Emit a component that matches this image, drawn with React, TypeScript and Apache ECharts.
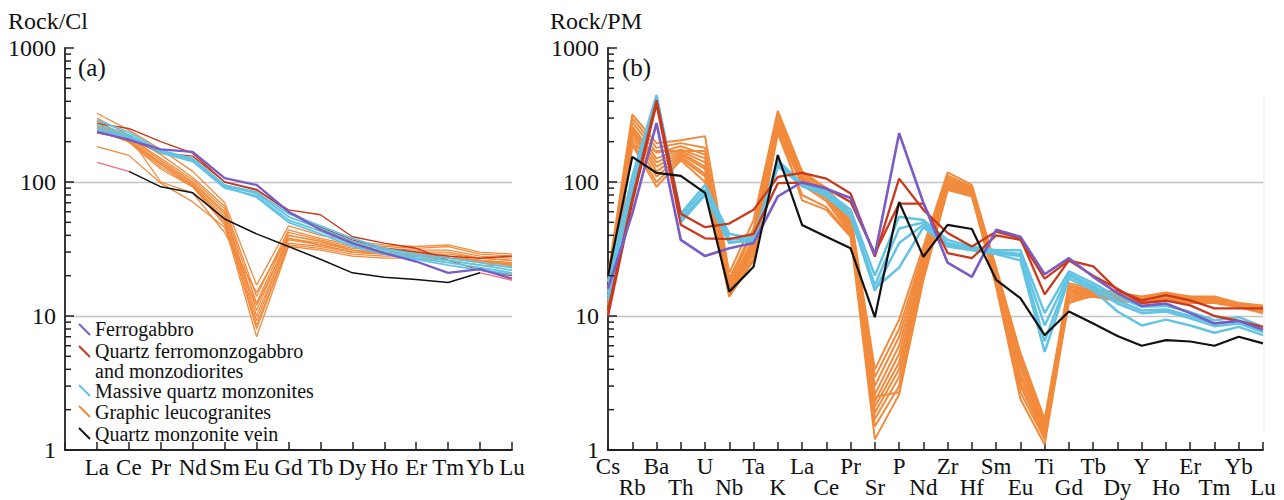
import React, { useEffect, useRef } from "react";
import * as echarts from "echarts";

// ---------- categories ----------
const REE = ["La", "Ce", "Pr", "Nd", "Sm", "Eu", "Gd", "Tb", "Dy", "Ho", "Er", "Tm", "Yb", "Lu"];
const SPIDER = ["Cs", "Rb", "Ba", "Th", "U", "Nb", "Ta", "K", "La", "Ce", "Pr", "Sr", "P", "Nd", "Zr", "Hf", "Sm", "Eu", "Ti", "Gd", "Tb", "Dy", "Y", "Ho", "Er", "Tm", "Yb", "Lu"];
const MINOR_TICKS = [2, 3, 4, 5, 6, 7, 8, 9, 20, 30, 40, 50, 60, 70, 80, 90, 200, 300, 400, 500, 600, 700, 800, 900];

// ---------- (a) Rock/Chondrite ----------
const reeFerrogabbro = [237, 206, 175, 168, 107, 95, 60, 44, 35, 29.5, 25.5, 21, 22.4, 19];
const reeQfmA = [274, 251, 200, 164, 100, 87, 62, 57, 39, 35, 32, 26, 22, 20];
const reeQfmB = [233, 210, 165, 156, 100, 88, 60, 46, 37, 32, 30, 28, 27, 28];
const reeMqm1 = [290, 235, 172, 150, 95, 84, 58, 47, 38, 32, 29, 27, 25, 23];
const reeMqm2 = [270, 225, 168, 147, 93, 82, 55, 45, 36, 31, 28, 26, 24, 22];
const reeMqm3 = [255, 220, 165, 142, 90, 79, 52, 43, 34, 30, 27, 25, 23, 21];
const reeMqm4 = [245, 215, 170, 145, 92, 77, 50, 41, 33, 29, 26.5, 24, 22, 20.5];
const reeGl1 = [326, 244, 175, 120, 70, 17, 47, 40, 36, 34, 33, 34, 30, 29];
const reeGl2 = [300, 225, 160, 108, 66, 14, 44, 38, 34, 33, 32, 33, 29, 28];
const reeGl3 = [285, 215, 150, 104, 63, 12.5, 42, 37, 33, 32, 31, 31, 28, 27];
const reeGl4 = [275, 210, 145, 100, 60, 11, 40, 36, 32, 31, 30, 30, 27, 26];
const reeGl5 = [268, 205, 140, 98, 58, 10, 38, 35, 31, 30, 29, 29, 27, 26];
const reeGl6 = [260, 205, 137, 95, 55, 9.2, 37, 34, 30, 29.5, 29, 28, 26, 25];
const reeGl7 = [255, 200, 135, 94, 52, 8.5, 35, 33, 30, 29, 28, 28, 25.5, 24.5];
const reeGl8 = [250, 200, 130, 93, 50, 8, 34, 32, 29, 28, 28, 27, 25, 24];
const reeGl9 = [245, 198, 125, 92, 48, 7, 33, 31, 28, 27, 27, 26, 24, 23.5];
const reeGl10 = [275, 220, 100, 83, 42, 15, 40, 36, 31, 29, 28, 27, 26, 25];
const reeGl11 = [184, 158, 98, 71, 46, 12, 38, 34, 30, 29, 28, 27, 26, 24];
const reeVein = [null, 120, 92, 83, 53, 41, 33, 26.5, 21, 19.5, 18.7, 17.8, 21, null];
const reeVeinEnds = [140, 120, null, null, null, null, null, null, null, null, null, null, 21, 18.5];

// ---------- (b) Rock/Primitive mantle ----------
const pmFerrogabbro = [16, 58, 275, 37, 28, 32, 35, 78, 100, 89, 76, 28.5, 231, 70, 25, 19.6, 44, 39, 20.5, 27, 19.6, 14.8, 11.9, 12.4, 10.5, 8.8, 9.2, 7.9];
const pmQfmA = [11, 75, 408, 58, 46, 49, 62, 109, 117, 106, 82, 27.7, 106, 62, 41.6, 33, 42.6, 38, 14.5, 26, 23.5, 15.6, 13.1, 14.3, 13.1, 11.4, 11.4, 11.4];
const pmQfmB = [10, 70, 380, 48, 38, 37.5, 41, 98, 99, 90, 71, 29.4, 69, 69, 29.5, 27, 40, 37, 19, 26, 20, 16, 12.5, 13, 12, 10, 9.2, 8.3];
const pmMqm1 = [18, 110, 445, 58, 95, 41, 38, 145, 97, 85, 62, 20, 55, 52, 37, 33, 31, 31, 10.5, 21.5, 17.6, 13.9, 11.7, 11.9, 10.7, 9.3, 9.8, 8.3];
const pmMqm2 = [15, 95, 430, 55, 88, 38, 37, 138, 95, 82, 58, 17, 45, 50, 35, 32, 30, 29, 8.5, 20.5, 16.8, 13, 11, 11.2, 10, 8.8, 9.2, 7.9];
const pmMqm3 = [13, 85, 420, 52, 82, 36, 36, 133, 93, 80, 57, 15.5, 35, 48, 34, 31.5, 29.5, 28, 6.5, 20, 16.2, 12.4, 10.5, 10.8, 9.6, 8.4, 8.8, 7.6];
const pmMqm4 = [14, 90, 410, 50, 80, 35, 37, 130, 97, 78, 55, 16, 23, 46, 33, 31, 29, 26, 5.4, 19, 15.6, 10.8, 8.5, 9.4, 8.5, 7.5, 8.3, 7.2];
const pmGl1 = [20, 320, 195, 205, 220, 21, 52, 340, 120, 90, 58, 4.0, 9.4, 33, 118, 95, 23, 5.3, 1.7, 17.6, 16, 15, 14, 15, 14, 14, 12.5, 12];
const pmGl2 = [18, 300, 180, 195, 180, 19, 45, 320, 115, 88, 55, 3.5, 8, 30, 112, 92, 22, 5.0, 1.6, 17, 15.5, 14.5, 13.8, 14.6, 13.8, 13.8, 12.4, 11.8];
const pmGl3 = [16, 280, 165, 185, 160, 18, 42, 300, 110, 85, 52, 3.0, 7, 28, 108, 90, 21, 4.6, 1.5, 16.5, 15.3, 14.3, 13.6, 14.3, 13.6, 13.6, 12.3, 11.6];
const pmGl4 = [15, 260, 150, 175, 150, 17, 38, 290, 108, 84, 50, 2.6, 6, 27, 104, 88, 20.5, 4.2, 1.45, 16, 15, 14, 13.4, 14, 13.4, 13.4, 12.2, 11.4];
const pmGl5 = [14, 250, 140, 170, 140, 16, 35, 280, 105, 82, 48, 2.3, 5.2, 25, 100, 86, 20, 3.8, 1.4, 15.5, 14.8, 13.8, 13.2, 13.8, 13.2, 13.2, 12.1, 11.2];
const pmGl6 = [13, 240, 130, 165, 130, 15.5, 33, 270, 102, 80, 46, 2.1, 4.5, 24, 97, 84, 19, 3.5, 1.35, 15, 14.6, 13.6, 13, 13.6, 13, 13, 12, 11];
const pmGl7 = [12, 230, 120, 160, 125, 15, 31, 260, 100, 78, 45, 1.9, 4, 22, 95, 82, 18.5, 3.2, 1.3, 14.5, 14.4, 13.4, 12.8, 13.4, 12.8, 12.8, 11.9, 10.9];
const pmGl8 = [11, 215, 110, 155, 115, 14.5, 29, 250, 98, 75, 43, 1.7, 3.5, 21, 92, 81, 18, 3.0, 1.25, 14, 14.2, 13.2, 12.7, 13.2, 12.7, 12.7, 11.8, 10.8];
const pmGl9 = [10, 200, 100, 150, 110, 14, 27, 240, 95, 72, 41, 1.5, 3, 20, 90, 80, 17, 2.7, 1.2, 13.5, 14, 13, 12.6, 13, 12.6, 12.6, 11.7, 10.7];
const pmGl10 = [10.5, 190, 92, 145, 100, 14, 26, 230, 80, 65, 40, 1.2, 2.6, 19, 88, 78, 16.5, 2.4, 1.1, 13, 14, 13, 12.5, 13, 12.5, 12.5, 11.6, 10.5];
const pmGl11 = [12, 185, 170, 170, 170, 16, 36, 260, 73, 62, 39, 2.5, 2.7, 18.6, 87, 79, 19, 4.4, 1.4, 12.5, 14.2, 13.5, 12.7, 13.3, 12.8, 12.8, 11.8, 11];
const pmVein = [20, 154, 117, 111, 83, 15.2, 23.3, 159, 47.8, 39, 32, 9.8, 71, 27.7, 47.8, 44.6, 18.6, 13.6, 7.2, 10.8, 8.8, 7.1, 6.0, 6.6, 6.45, 6.0, 7.0, 6.25];

// ---------- legend ----------
const LEGEND_NAMES = ["Ferrogabbro", "Quartz ferromonzogabbro", "Massive quartz monzonites", "Graphic leucogranites", "Quartz monzonite vein"];
const LEGEND_EXTRA_LINE = "and monzodiorites";
const LEGEND_COLORS = ["#7a5cc7", "#c8391d", "#63c3e3", "#f28a3c", "#111111"];

const C_PURPLE = LEGEND_COLORS[0];
const C_RED = LEGEND_COLORS[1];
const C_BLUE = LEGEND_COLORS[2];
const C_ORANGE = LEGEND_COLORS[3];
const C_BLACK = LEGEND_COLORS[4];
const C_PINK = "#f0707e";
const SERIF = "Liberation Serif";

export default function App() {
  const ref = useRef<HTMLDivElement>(null);

  useEffect(() => {
    if (!ref.current) return;
    const chart = echarts.init(ref.current, undefined, { renderer: "svg" });

    const mk = (data: any[], color: string, width: number, panel: number, z: number) => ({
      type: "line",
      xAxisIndex: panel,
      yAxisIndex: panel,
      data: panel === 0 ? [null, ...data] : data,
      symbol: "none",
      silent: true,
      connectNulls: false,
      z,
      lineStyle: { color, width },
    });

    const minorTicks = (panel: number) => ({
      type: "custom",
      xAxisIndex: panel,
      yAxisIndex: panel,
      silent: true,
      z: 5,
      clip: false,
      data: MINOR_TICKS.map((v) => [0, v]),
      renderItem: (_p: any, api: any) => {
        const pt = api.coord([api.value(0), api.value(1)]);
        return {
          type: "line",
          shape: { x1: pt[0], y1: pt[1], x2: pt[0] + 6, y2: pt[1] },
          style: { stroke: "#222", lineWidth: 1.5 },
        };
      },
    });

    const yAxisBase = (grid: number) => ({
      type: "log",
      gridIndex: grid,
      min: 1,
      max: 1000,
      logBase: 10,
      axisLine: { show: true, lineStyle: { color: "#222", width: 1.8 } },
      axisTick: { show: true, inside: true, length: 9, lineStyle: { color: "#222", width: 1.5 } },
      axisLabel: {
        fontFamily: SERIF,
        fontSize: 24,
        color: "#111",
        margin: 9,
        formatter: (v: number) => String(Math.round(v)),
      },
      splitLine: { show: true, showMinLine: false, showMaxLine: false, lineStyle: { color: "#c4c4c4", width: 1.3 } },
    });

    const glRee = [reeGl1, reeGl2, reeGl3, reeGl4, reeGl5, reeGl6, reeGl7, reeGl8, reeGl9, reeGl10, reeGl11];
    const mqmRee = [reeMqm1, reeMqm2, reeMqm3, reeMqm4];
    const glPm = [pmGl1, pmGl2, pmGl3, pmGl4, pmGl5, pmGl6, pmGl7, pmGl8, pmGl9, pmGl10, pmGl11];
    const mqmPm = [pmMqm1, pmMqm2, pmMqm3, pmMqm4];

    const series: any[] = [
      ...glRee.map((d) => mk(d, C_ORANGE, 1.3, 0, 2)),
      mk(reeQfmA, C_RED, 1.4, 0, 3),
      mk(reeQfmB, C_RED, 1.4, 0, 3),
      ...mqmRee.map((d) => mk(d, C_BLUE, 1.8, 0, 3)),
      mk(reeFerrogabbro, C_PURPLE, 2.3, 0, 4),
      mk(reeVein, C_BLACK, 1.5, 0, 4),
      mk(reeVeinEnds, C_PINK, 1.4, 0, 4),
      ...glPm.map((d) => mk(d, C_ORANGE, 2, 1, 2)),
      ...mqmPm.map((d) => mk(d, C_BLUE, 2.5, 1, 3)),
      mk(pmQfmA, C_RED, 2.3, 1, 3),
      mk(pmQfmB, C_RED, 2.3, 1, 3),
      mk(pmFerrogabbro, C_PURPLE, 2.6, 1, 4),
      mk(pmVein, C_BLACK, 2.2, 1, 4),
      minorTicks(0),
      minorTicks(1),
    ];

    const txt = (text: string, x: number, y: number, size: number) => ({
      type: "text",
      x,
      y,
      style: {
        text,
        fontFamily: SERIF,
        fontSize: size,
        fill: "#111",
        verticalAlign: "middle",
        lineHeight: size,
      },
    });

    const graphic: any[] = [
      txt("Rock/Cl", 8, 21, 24),
      txt("Rock/PM", 550, 21, 24),
      txt("(a)", 78, 67, 25),
      txt("(b)", 622, 67, 25),
      { type: "line", shape: { x1: 1264, y1: 94, x2: 1264, y2: 432 }, style: { stroke: "#ececec", lineWidth: 1 } },
    ];
    const markerY = [324, 346, 385, 406, 428];
    const textY = [329, 351, 391, 412, 434];
    LEGEND_NAMES.forEach((name, i) => {
      graphic.push({
        type: "line",
        shape: { x1: 79, y1: markerY[i], x2: 90, y2: markerY[i] + 11 },
        style: { stroke: LEGEND_COLORS[i], lineWidth: 2 },
      });
      graphic.push(txt(name, 95, textY[i], 20));
    });
    graphic.push(txt(LEGEND_EXTRA_LINE, 95, 371, 20));

    chart.setOption({
      animation: false,
      grid: [
        { left: 65, top: 48, width: 447, height: 402 },
        { left: 608, top: 48, width: 655, height: 402 },
      ],
      xAxis: [
        {
          type: "category",
          gridIndex: 0,
          data: ["", ...REE],
          boundaryGap: false,
          axisLine: { show: true, lineStyle: { color: "#222", width: 1.8 } },
          axisTick: { show: true, inside: true, length: 8, interval: 0, lineStyle: { color: "#222", width: 1.5 } },
          axisLabel: { interval: 0, fontFamily: SERIF, fontSize: 23, color: "#111", margin: 6 },
          splitLine: { show: false },
        },
        {
          type: "category",
          gridIndex: 1,
          data: SPIDER,
          boundaryGap: false,
          axisLine: { show: true, lineStyle: { color: "#222", width: 1.8 } },
          axisTick: { show: true, inside: true, length: 8, interval: 0, lineStyle: { color: "#222", width: 1.5 } },
          axisLabel: {
            interval: 0,
            fontFamily: SERIF,
            fontSize: 23,
            color: "#111",
            margin: 6,
            lineHeight: 21,
            formatter: (v: string, idx: number) => (idx % 2 === 1 ? "\n" + v : v),
          },
          splitLine: { show: false },
        },
      ],
      yAxis: [yAxisBase(0), yAxisBase(1)],
      series,
      graphic,
    });

    return () => chart.dispose();
  }, []);

  return <div ref={ref} style={{ position: "absolute", left: 0, top: 0, width: 1284, height: 500 }} />;
}
